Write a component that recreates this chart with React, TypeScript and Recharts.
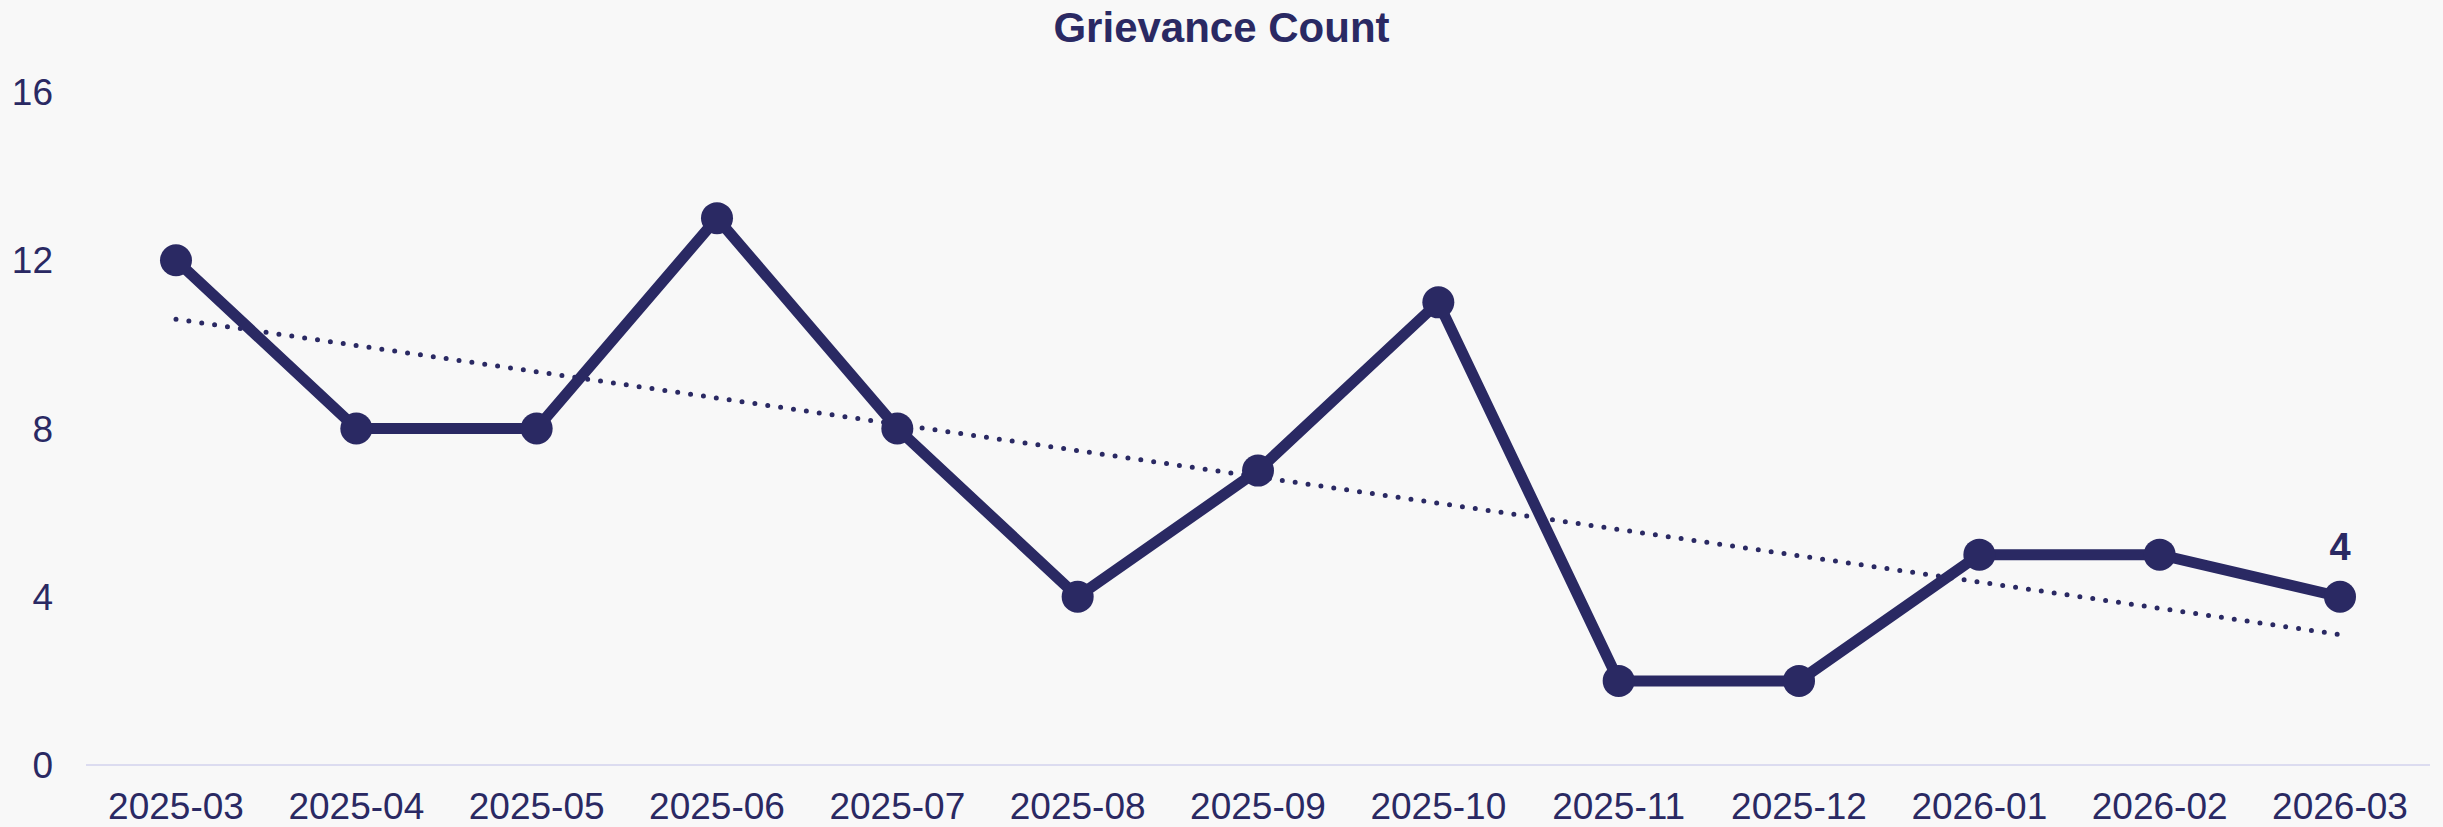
import { LabelList, Line, LineChart, ReferenceLine, XAxis, YAxis } from "recharts";

const months = [
  "2025-03", "2025-04", "2025-05", "2025-06", "2025-07", "2025-08", "2025-09",
  "2025-10", "2025-11", "2025-12", "2026-01", "2026-02", "2026-03",
];
const counts = [12, 8, 8, 13, 8, 4, 7, 11, 2, 2, 5, 5, 4];
const yTicks = [0, 4, 8, 12, 16];
// trend line end points
const trendStart = 10.6;
const trendEnd = 3.1;

const navy = "#2a2963";
const font = "'Liberation Sans', Arial, sans-serif";

const data = months.map((m, i) => ({ month: m, count: counts[i] }));

const LastLabel = (props: any) => {
  const { x, y, value, index } = props;
  if (index !== counts.length - 1) return null;
  return (
    <text x={x} y={y - 37} textAnchor="middle" fill={navy} fontSize={38} fontWeight="bold" fontFamily={font}>
      {value}
    </text>
  );
};

export default function App() {
  return (
    <div style={{ position: "absolute", left: 0, top: 0, width: 2443, height: 827, background: "#f8f8f8" }}>
      <div
        style={{
          position: "absolute",
          top: 7,
          left: 0,
          width: 2443,
          textAlign: "center",
          fontFamily: font,
          fontWeight: "bold",
          fontSize: 42,
          lineHeight: "42px",
          color: navy,
        }}
      >
        Grievance Count
      </div>
      <LineChart width={2443} height={827} data={data} margin={{ top: 92, right: 13, left: 0, bottom: 0 }}>
        <XAxis
          dataKey="month"
          height={62}
          padding={{ left: 90, right: 90 }}
          tickLine={false}
          tickSize={0}
          tickMargin={28}
          axisLine={{ stroke: "#dcdcf0", strokeWidth: 2 }}
          tick={{ fill: navy, fontSize: 37, fontFamily: font }}
          interval={0}
        />
        <YAxis
          width={86}
          domain={[0, 16]}
          ticks={yTicks}
          axisLine={false}
          tickLine={false}
          tickSize={0}
          tickMargin={33}
          tick={{ fill: navy, fontSize: 37, fontFamily: font }}
        />
        <ReferenceLine
          segment={[
            { x: months[0], y: trendStart },
            { x: months[months.length - 1], y: trendEnd },
          ]}
          stroke={navy}
          strokeWidth={5}
          strokeDasharray="0 13"
          strokeLinecap="round"
        />
        <Line
          type="linear"
          dataKey="count"
          stroke={navy}
          strokeWidth={11}
          dot={{ r: 16, fill: navy, stroke: "none" }}
          activeDot={false}
          isAnimationActive={false}
        >
          <LabelList dataKey="count" content={<LastLabel />} />
        </Line>
      </LineChart>
    </div>
  );
}
